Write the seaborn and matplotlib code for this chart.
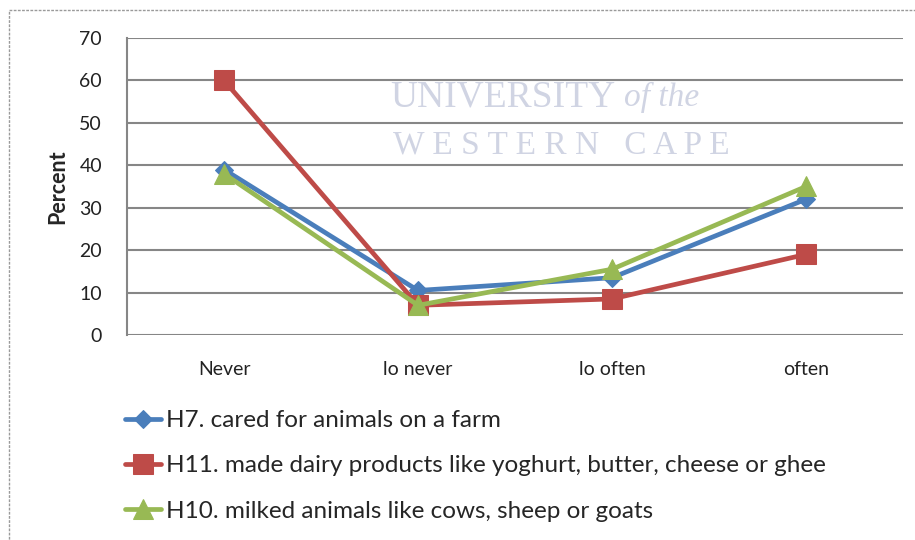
import pandas as pd
import matplotlib.pyplot as plt
import seaborn as sns
from matplotlib.patches import Rectangle

# data
categories = ['Never', 'lo never', 'lo often', 'often']
h7 = [39, 10.5, 13.5, 32]
h11 = [60, 7, 8.5, 19]
h10 = [38, 7, 15.5, 35]
labels = ['H7. cared for animals on a farm',
          'H11. made dairy products like yoghurt, butter, cheese or ghee',
          'H10. milked animals like cows, sheep or goats']

df = pd.concat([
    pd.DataFrame({'cat': categories, 'val': h7, 'series': labels[0]}),
    pd.DataFrame({'cat': categories, 'val': h11, 'series': labels[1]}),
    pd.DataFrame({'cat': categories, 'val': h10, 'series': labels[2]}),
])

sns.set_style('white')
plt.rcParams['font.family'] = ['Lato', 'DejaVu Sans']

colors = {labels[0]: '#4a7ebb', labels[1]: '#be4b48', labels[2]: '#98b954'}
markers = {labels[0]: 'D', labels[1]: 's', labels[2]: '^'}
msizes = {labels[0]: 9, labels[1]: 14, labels[2]: 14}

fig = plt.figure(figsize=(9.15, 5.4), dpi=100)
ax = fig.add_axes([127 / 915, 1 - 335 / 540, 776 / 915, 297 / 540])

handles = []
for s in labels:
    d = df[df['series'] == s]
    sns.lineplot(data=d, x='cat', y='val', ax=ax, color=colors[s], lw=3.4,
                 marker=markers[s], markersize=msizes[s], markeredgecolor=colors[s],
                 sort=False, zorder=3)
    handles.append(ax.lines[-1])

ax.set_xlim(-0.5, 3.5)
ax.set_ylim(0, 70)
ax.set_yticks(range(0, 71, 10))
ax.grid(axis='y', color='#868686', lw=1.5)
ax.grid(axis='x', visible=False)
for sp in ['top', 'right', 'bottom']:
    ax.spines[sp].set_visible(False)
ax.spines['left'].set_color('#868686')
ax.spines['left'].set_linewidth(1.5)
ax.tick_params(axis='y', length=0, pad=18, labelsize=14, labelcolor='#222222')
ax.tick_params(axis='x', length=0, pad=19, labelsize=14, labelcolor='#222222')
ax.set_xlabel('')
ax.set_ylabel('Percent', fontsize=15.5, fontweight='bold', labelpad=8)
ax.legend_ = None

# faint watermark behind the chart
wm = dict(transform=ax.transAxes, family='Liberation Serif', color='#d0d4e3',
          va='center', zorder=0)
ax.text(0.629, 0.80, 'UNIVERSITY', fontsize=27, ha='right', **wm)
ax.text(0.640, 0.80, 'of the', fontsize=24, style='italic', ha='left', **wm)
ax.text(0.560, 0.64, 'W E S T E R N   C A P E', fontsize=24, ha='center', **wm)

fig.legend(handles, labels, loc='upper left', bbox_to_anchor=(125 / 915, 1 - 410 / 540),
           frameon=False, fontsize=17.5, handlelength=1.5, handletextpad=0.2,
           labelspacing=1.0, borderpad=0, borderaxespad=0)

# chart border (left and top visible)
fig.patches.append(Rectangle((9 / 915, -0.1), 1.1, 1 - 9.5 / 540 + 0.1,
                             transform=fig.transFigure, fill=False,
                             edgecolor='#9a9a9a', lw=1, ls=(0, (2, 1))))

plt.savefig('out.png', dpi=100)
